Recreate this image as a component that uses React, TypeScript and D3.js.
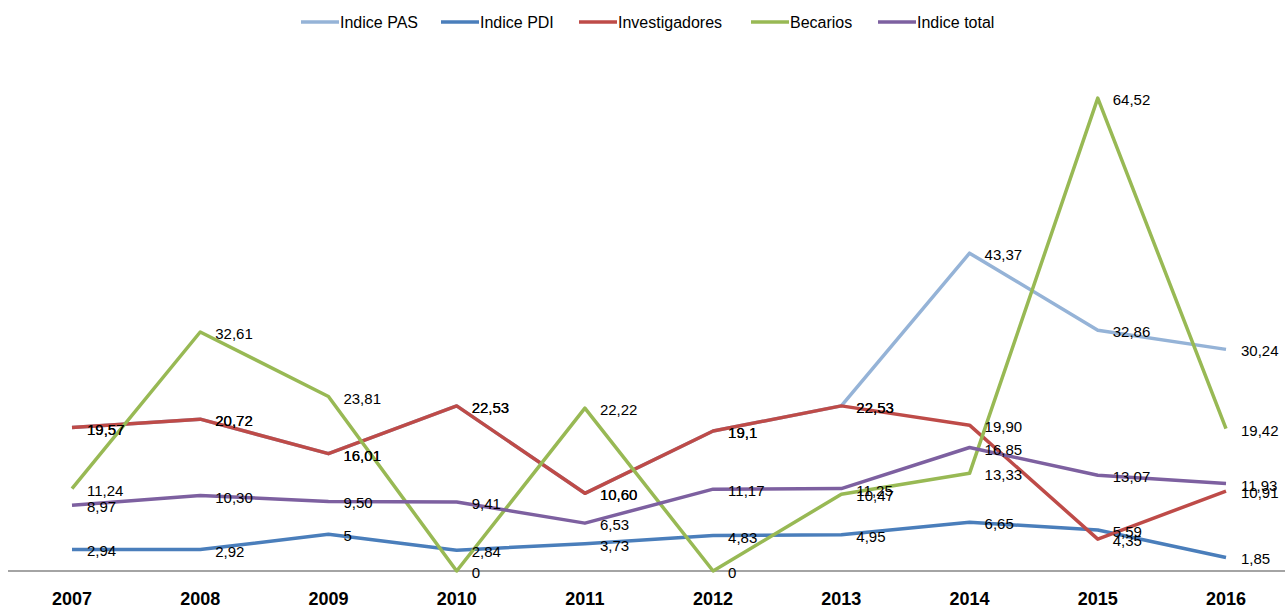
import React from "react";
import * as d3 from "d3";

const years = ["2007", "2008", "2009", "2010", "2011", "2012", "2013", "2014", "2015", "2016"];
const pasLabels = ["19,57", "20,72", "16,01", "22,53", "10,60", "19,1", "22,53", "43,37", "32,86", "30,24"];
const pdiLabels = ["2,94", "2,92", "5", "2,84", "3,73", "4,83", "4,95", "6,65", "5,59", "1,85"];
const invLabels = ["19,57", "20,72", "16,01", "22,53", "10,60", "19,1", "22,53", "19,90", "4,35", "10,91"];
const becLabels = ["11,24", "32,61", "23,81", "0", "22,22", "0", "10,47", "13,33", "64,52", "19,42"];
const totLabels = ["8,97", "10,30", "9,50", "9,41", "6,53", "11,17", "11,25", "16,85", "13,07", "11,93"];

const seriesNames = ["Indice PAS", "Indice PDI", "Investigadores", "Becarios", "Indice total"];
const seriesColors = ["#95B3D7", "#4A7EBB", "#BE4B48", "#98B954", "#7D60A0"];
const seriesLabels = [pasLabels, pdiLabels, invLabels, becLabels, totLabels];
const legendX = [301, 441, 579, 751, 878];

const W = 1285;
const H = 607;
const FONT = "'Liberation Sans', Arial, sans-serif";

export default function App() {
  const x = d3.scalePoint<string>().domain(years).range([72, 1226]);
  const y = d3.scaleLinear().domain([0, 70]).range([571, 58]);
  const series = seriesNames.map((name, i) => ({
    name,
    color: seriesColors[i],
    labels: seriesLabels[i],
    values: seriesLabels[i].map((s) => parseFloat(s.replace(",", "."))),
  }));
  const line = d3
    .line<number>()
    .x((_, i) => x(years[i]) as number)
    .y((d) => y(d));

  return (
    <svg
      width={W}
      height={H}
      style={{ position: "absolute", left: 0, top: 0, background: "#fff" }}
      fontFamily={FONT}
    >
      <rect width={W} height={H} fill="#fff" />
      <line x1={8} x2={W} y1={y(0)} y2={y(0)} stroke="#868686" strokeWidth={1.5} />
      {years.map((yr) => (
        <text
          key={yr}
          x={x(yr)}
          y={605}
          textAnchor="middle"
          fontWeight="bold"
          fontSize={18}
          fill="#000"
        >
          {yr}
        </text>
      ))}
      {series.map((s) => (
        <path
          key={s.name}
          d={line(s.values) || ""}
          fill="none"
          stroke={s.color}
          strokeWidth={3.5}
          strokeLinejoin="round"
        />
      ))}
      {series.map((s) =>
        s.values.map((v, i) => (
          <text
            key={s.name + i}
            x={(x(years[i]) as number) + 15}
            y={y(v) + 7}
            fontSize={15}
            fill="#000"
          >
            {s.labels[i]}
          </text>
        ))
      )}
      {series.map((s, i) => (
        <g key={s.name} transform={`translate(${legendX[i]},22)`}>
          <line x1={0} x2={38} y1={0} y2={0} stroke={s.color} strokeWidth={3.5} />
          <text x={39} y={5.5} fontSize={16} fill="#000">
            {s.name}
          </text>
        </g>
      ))}
    </svg>
  );
}
